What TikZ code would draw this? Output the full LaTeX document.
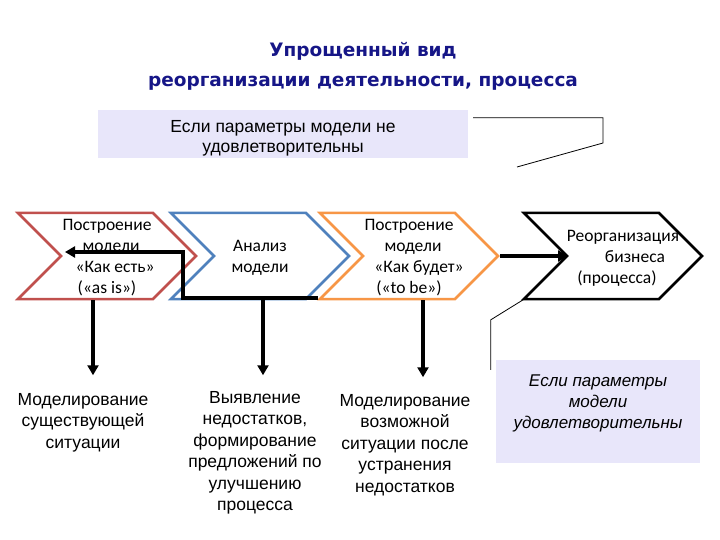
\documentclass[tikz,border=0pt]{standalone}
\usepackage{fontspec}
\setmainfont{Liberation Sans}
\newfontfamily\chevfont{Carlito}
\newfontfamily\headfont{DejaVu Sans}
\usetikzlibrary{shapes.symbols,arrows.meta,positioning,calc}
\definecolor{redline}{HTML}{C0504D}
\definecolor{blueline}{HTML}{4F81BD}
\definecolor{orangeline}{HTML}{F79646}
\definecolor{lavender}{RGB}{232,230,250}
\definecolor{titleblue}{RGB}{22,22,135}
\tikzstyle{chev}=[signal, signal from=west, signal to=east,
  signal pointer angle=90, minimum width=178pt, minimum height=86pt,
  line width=2.5pt, fill=white, inner sep=0pt]
\tikzstyle{chevtext}=[align=center, inner sep=0pt, yshift=-2pt,
  font=\chevfont\fontsize{17.5}{21}\selectfont]
\tikzstyle{cond}=[fill=lavender]
\tikzstyle{result}=[align=center, inner sep=0pt,
  font=\fontsize{17.5}{21.5}\selectfont]
\tikzstyle{line}=[draw, line width=3.5pt, -{Triangle[length=10pt,width=11pt]}]
\tikzstyle{callout}=[draw, line width=0.8pt]
\newcommand{\chevron}[3]{node (p#1) [chev, draw=#2] {}
  node (p#1t) [chevtext] {#3}}

\begin{document}
\begin{tikzpicture}[x=1pt,y=-1pt]
  \useasboundingbox (0,0) rectangle (720,540);

  % Title
  \node[font=\headfont\bfseries\fontsize{18.5}{30}\selectfont, text=titleblue,
    align=center] (title) at (363,66)
    {Упрощенный вид\\реорганизации деятельности, процесса};

  % Conditions
  \node[cond, minimum width=370pt, minimum height=48pt] (c1) at (283,134) {};
  \node[result, font=\fontsize{17.5}{20}\selectfont, below=10pt of c1.north] (c1t)
    {Если параметры модели не\\удовлетворительны};
  \node[cond, minimum width=204pt, minimum height=103pt] (c2) at (598,411.5) {};
  \node[result, font=\itshape\fontsize{17}{21}\selectfont,
    below=15pt of c2.north] (c2t) {Если параметры\\модели\\удовлетворительны};

  % Process chevrons
  \path (107,256) \chevron{1}{redline}{Построение\\\hspace*{8pt}модели\\\hspace*{16pt}«Как есть»\\(«as is»)};
  \path (p1.center)+(153,0) \chevron{2}{blueline}{Анализ\\модели};
  \path (p2.center)+(149,0) \chevron{3}{orangeline}{Построение\\\hspace*{8pt}модели\\\hspace*{20pt}«Как будет»\\(«to be»)};
  \path (p3.center)+(204,0) \chevron{4}{black}{\hspace*{20pt}Реорганизация\\\hspace*{44pt}бизнеса\\\hspace*{8pt}(процесса)};

  % Results
  \node[result, anchor=north] (t1) at (83,393)
    {Моделирование\\существующей\\ситуации};
  \node[result, anchor=north] (t2) at (255,391)
    {Выявление\\недостатков,\\формирование\\предложений по\\улучшению\\процесса};
  \node[result, anchor=north] (t3) at (405,394)
    {Моделирование\\возможной\\ситуации после\\устранения\\недостатков};

  % Arrows
  \path [line] ([xshift=91pt]p3.center) -- ([xshift=-45pt]p4.center);
  \path [line] ([shift={(-91,42)}]p3.center) -- ++(-135,0) |- ([shift={(-42,-4)}]p1.center);
  \path [line] ([xshift=-14pt]p1.south) -- ++(0,75);
  \path [line] ([xshift=3pt]p2.south) -- ++(0,75);
  \path [line] ([xshift=14pt]p3.south) -- ++(0,77);

  % Callout lines
  \path [callout] ([shift={(5,8)}]c1.north east) -| (603,143) -- (517,167);
  \path [callout] ([shift={(-5,10)}]c2.north west) -- ++(0,-50) -- ([shift={(-87,42)}]p4.center);
\end{tikzpicture}
\end{document}
